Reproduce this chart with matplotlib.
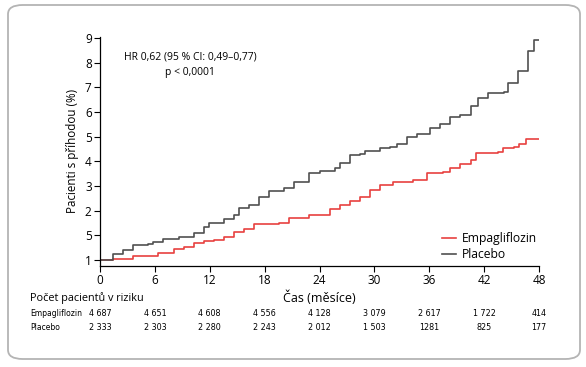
import matplotlib
matplotlib.use("Agg")
import matplotlib.pyplot as plt
from matplotlib.patches import FancyBboxPatch

plt.rcParams['font.family'] = ['Open Sans', 'DejaVu Sans']

# cumulative event curves (y in axis units, tick labels below)
placebo_t = [0, 1.43, 2.53, 3.63, 5.28, 5.84, 6.94, 8.59, 10.24, 11.34, 11.89, 13.54,
             14.64, 15.19, 16.29, 17.40, 18.50, 20.15, 21.25, 22.90, 24.00, 25.65,
             26.20, 27.30, 28.41, 28.96, 30.61, 31.71, 32.48, 33.58, 34.68, 36.11,
             37.21, 38.31, 39.41, 40.52, 41.29, 42.39, 44.15, 44.59, 45.69, 46.79,
             47.45, 48.0]
placebo_y = [0, 0.24, 0.41, 0.61, 0.65, 0.73, 0.85, 0.93, 1.09, 1.34, 1.50, 1.66,
             1.82, 2.11, 2.23, 2.55, 2.80, 2.92, 3.16, 3.53, 3.61, 3.73, 3.93, 4.26,
             4.30, 4.42, 4.54, 4.58, 4.70, 4.99, 5.11, 5.35, 5.51, 5.80, 5.88, 6.24,
             6.57, 6.77, 6.81, 7.17, 7.66, 8.47, 8.92, 8.92]

empa_t = [0, 1.43, 3.63, 4.73, 6.39, 8.04, 9.14, 10.24, 11.34, 12.44, 13.54, 14.64,
          15.74, 16.84, 19.60, 20.70, 22.90, 25.10, 26.20, 27.30, 28.41, 29.51,
          30.61, 32.04, 34.24, 35.78, 37.54, 38.31, 39.41, 40.52, 41.07, 43.49,
          44.04, 45.25, 45.80, 46.57, 48.0]
empa_y = [0, 0.04, 0.16, 0.16, 0.28, 0.45, 0.53, 0.69, 0.77, 0.81, 0.93, 1.13,
          1.26, 1.46, 1.50, 1.70, 1.82, 2.07, 2.23, 2.39, 2.55, 2.84, 3.04, 3.16,
          3.24, 3.53, 3.57, 3.73, 3.89, 4.05, 4.34, 4.38, 4.54, 4.58, 4.70, 4.90,
          4.90]

y_labels = ['1', '5', '2', '3', '4', '5', '6', '7', '8', '9']
x_ticks = [0, 6, 12, 18, 24, 30, 36, 42, 48]

risk_empa = ['4 687', '4 651', '4 608', '4 556', '4 128', '3 079', '2 617', '1 722', '414']
risk_placebo = ['2 333', '2 303', '2 280', '2 243', '2 012', '1 503', '1281', '825', '177']

RED = '#e8413f'
GREY = '#505050'

fig = plt.figure(figsize=(5.86, 3.67), dpi=100)

# rounded frame
frame = FancyBboxPatch((8 / 586, 1 - 359 / 367), 572 / 586, 354 / 367,
                       boxstyle="round,pad=0,rounding_size=0.025",
                       transform=fig.transFigure, facecolor='white',
                       edgecolor='#b4b4b4', linewidth=1.3, zorder=-5)
fig.patches.append(frame)

ax = fig.add_axes([100 / 586, 1 - 266 / 367, 439 / 586, 229.3 / 367])
ax.set_zorder(2)
ax.set_facecolor('none')

ax.plot(empa_t, empa_y, drawstyle='steps-post', color=RED, lw=1.2,
        label='Empagliflozin')
ax.plot(placebo_t, placebo_y, drawstyle='steps-post', color=GREY, lw=1.2,
        label='Placebo')

ax.set_xlim(0, 48)
ax.set_ylim(-0.24, 9.05)
ax.set_xticks(x_ticks)
ax.set_yticks(range(10))
ax.set_yticklabels(y_labels)
ax.tick_params(labelsize=8.5, length=4, width=0.8, pad=2)
for s in ['top', 'right']:
    ax.spines[s].set_visible(False)
for s in ['left', 'bottom']:
    ax.spines[s].set_linewidth(0.9)

ax.set_ylabel('Pacienti s příhodou (%)', fontsize=8.4, labelpad=4)
ax.set_xlabel('Čas (měsíce)', fontsize=9, labelpad=2)

ax.text(0.205, 0.911, 'HR 0,62 (95 % CI: 0,49–0,77)', transform=ax.transAxes,
        fontsize=7.5, ha='center', va='center')
ax.text(0.205, 0.842, 'p < 0,0001', transform=ax.transAxes,
        fontsize=7.5, ha='center', va='center')

ax.legend(loc='lower right', bbox_to_anchor=(1.02, -0.025), frameon=False,
          fontsize=8.7, handlelength=1.1, handletextpad=0.5, labelspacing=0.2)

# number at risk table
fig.text(30 / 586, 1 - 298 / 367, 'Počet pacientů v riziku', fontsize=7.8,
         va='center', ha='left')
narrow = ['Liberation Sans Narrow', 'DejaVu Sans']
fig.text(30 / 586, 1 - 313 / 367, 'Empagliflozin', fontsize=5.5, va='center',
         ha='left', family=narrow)
fig.text(30 / 586, 1 - 327 / 367, 'Placebo', fontsize=5.5, va='center',
         ha='left', family=narrow)
for t, a, b in zip(x_ticks, risk_empa, risk_placebo):
    xf = fig.transFigure.inverted().transform(ax.transData.transform((t, 0)))[0]
    fig.text(xf, 1 - 313 / 367, a, fontsize=5.8, va='center', ha='center', family=narrow)
    fig.text(xf, 1 - 327 / 367, b, fontsize=5.8, va='center', ha='center', family=narrow)

fig.savefig('out.png', dpi=100)
